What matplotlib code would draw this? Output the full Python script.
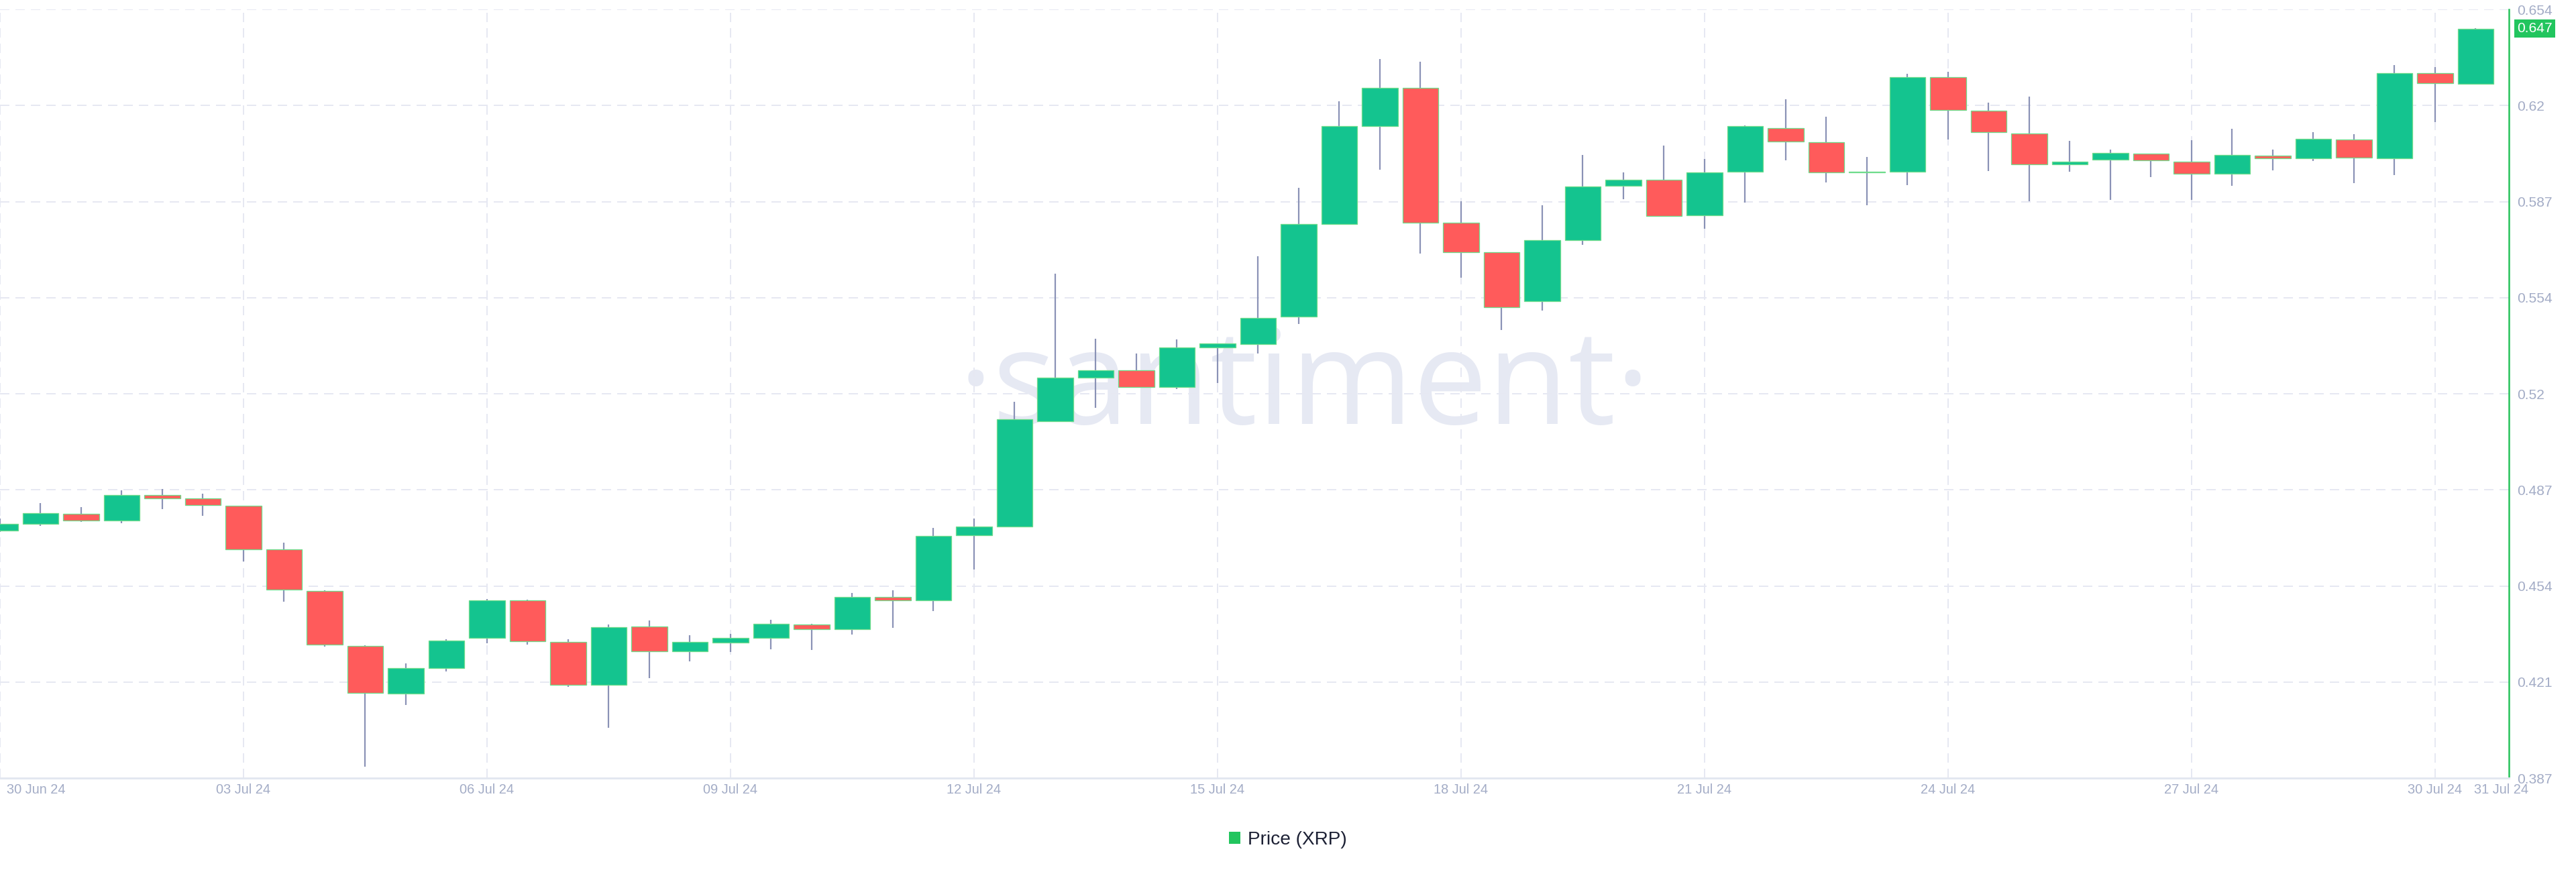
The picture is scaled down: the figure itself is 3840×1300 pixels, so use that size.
import numpy as np
import pandas as pd
import matplotlib
matplotlib.use("Agg")
import matplotlib.pyplot as plt
import matplotlib.dates as mdates
import matplotlib.transforms as mtransforms
from matplotlib.patches import Patch
from matplotlib import font_manager

# ---------------- data (12h candles, XRP price) ----------------
start = "2024-06-30"
opens = [0.4729, 0.4752, 0.4787, 0.4764, 0.4854, 0.4842, 0.4816, 0.4665, 0.4520, 0.4330,
         0.4164, 0.4252, 0.4356, 0.4487, 0.4344, 0.4195, 0.4396, 0.4311, 0.4340, 0.4356,
         0.4404, 0.4387, 0.4499, 0.4487, 0.4713, 0.4744, 0.5110, 0.5262, 0.5286, 0.5228,
         0.5365, 0.5378, 0.5472, 0.5795, 0.6135, 0.6268, 0.5799, 0.5696, 0.5526, 0.5739,
         0.5927, 0.5948, 0.5824, 0.5976, 0.6128, 0.6079, 0.5975, 0.5977, 0.6304, 0.6188,
         0.6110, 0.6001, 0.6019, 0.6039, 0.6012, 0.5970, 0.6032, 0.6022, 0.6088, 0.6023,
         0.6319, 0.6281]
highs = [0.4771, 0.4826, 0.4812, 0.4870, 0.4874, 0.4857, 0.4817, 0.4688, 0.4522, 0.4332,
         0.4269, 0.4352, 0.4491, 0.4490, 0.4352, 0.4404, 0.4418, 0.4367, 0.4370, 0.4421,
         0.4406, 0.4514, 0.4523, 0.4740, 0.4771, 0.5176, 0.5623, 0.5396, 0.5345, 0.5394,
         0.5380, 0.5682, 0.5920, 0.6220, 0.6367, 0.6358, 0.5873, 0.5697, 0.5859, 0.6034,
         0.5974, 0.6067, 0.6020, 0.6136, 0.6227, 0.6168, 0.6028, 0.6317, 0.6324, 0.6217,
         0.6238, 0.6084, 0.6054, 0.6040, 0.6085, 0.6125, 0.6053, 0.6113, 0.6107, 0.6346,
         0.6340, 0.6474]
lows = [0.4726, 0.4747, 0.4759, 0.4756, 0.4804, 0.4782, 0.4623, 0.4482, 0.4327, 0.3909,
        0.4123, 0.4241, 0.4338, 0.4333, 0.4187, 0.4044, 0.4217, 0.4276, 0.4307, 0.4317,
        0.4315, 0.4368, 0.4393, 0.4449, 0.4594, 0.4742, 0.5107, 0.5156, 0.5228, 0.5221,
        0.5242, 0.5345, 0.5448, 0.5794, 0.5984, 0.5691, 0.5607, 0.5427, 0.5494, 0.5722,
        0.5881, 0.5822, 0.5777, 0.5869, 0.6016, 0.5940, 0.5860, 0.5930, 0.6088, 0.5978,
        0.5873, 0.5977, 0.5878, 0.5957, 0.5878, 0.5927, 0.5980, 0.6014, 0.5937, 0.5964,
        0.6148, 0.6280]
closes = [0.4752, 0.4791, 0.4764, 0.4854, 0.4842, 0.4818, 0.4665, 0.4525, 0.4333, 0.4166,
          0.4251, 0.4348, 0.4487, 0.4345, 0.4195, 0.4395, 0.4311, 0.4343, 0.4356, 0.4407,
          0.4387, 0.4500, 0.4487, 0.4712, 0.4744, 0.5116, 0.5261, 0.5286, 0.5229, 0.5365,
          0.5379, 0.5468, 0.5795, 0.6135, 0.6267, 0.5800, 0.5697, 0.5505, 0.5738, 0.5925,
          0.5948, 0.5823, 0.5975, 0.6135, 0.6080, 0.5973, 0.5976, 0.6304, 0.6191, 0.6113,
          0.6001, 0.6012, 0.6041, 0.6015, 0.5970, 0.6034, 0.6023, 0.6090, 0.6024, 0.6319,
          0.6283, 0.6473]

y_tick_labels = ["0.387", "0.421", "0.454", "0.487", "0.52", "0.554", "0.587", "0.62", "0.654"]
x_tick_labels = ["30 Jun 24", "03 Jul 24", "06 Jul 24", "09 Jul 24", "12 Jul 24", "15 Jul 24",
                 "18 Jul 24", "21 Jul 24", "24 Jul 24", "27 Jul 24", "30 Jul 24"]
end_label = "31 Jul 24"
series_name = "Price (XRP)"
watermark = "·santiment·"

# ---------------- style ----------------
DPI = 100
W, H = 3840, 1300


def px(v):
    return v * 72.0 / DPI


plt.rcParams["lines.scale_dashes"] = False
plt.rcParams["font.family"] = ["Liberation Sans", "DejaVu Sans"]

GREEN = "#14C48F"
RED = "#FF5B5B"
EDGE = "#6FDC8C"
WICK = "#8A92B6"
GRID = "#E6E8F2"
TICK = "#A3ACC6"
AXIS_GREEN = "#26C35B"
LABEL_GREEN = "#22C55E"
WM = "#E6E9F3"

times = pd.date_range(start, periods=len(opens), freq="12h")
xs = mdates.date2num(times)
o, h, l, c = (np.array(a) for a in (opens, highs, lows, closes))
up = c >= o

fig = plt.figure(figsize=(W / DPI, H / DPI), dpi=DPI, facecolor="white")
ax = fig.add_axes([0, 1 - 1160 / H, 3740 / W, (1160 - 14) / H])
ax.set_facecolor("none")

# watermark (behind the axes)
avail = {f.name for f in font_manager.fontManager.ttflist}
if "Liberation Sans Narrow" in avail:
    wm_family, wm_size = "Liberation Sans Narrow", px(258)
else:
    wm_family, wm_size = "Open Sans", px(197)
fig.text(1945 / W, 1 - 632 / H, watermark, ha="center", va="baseline",
         fontsize=wm_size, family=[wm_family, "DejaVu Sans"], color=WM, zorder=-1)

# candles
step = 0.5  # days
body_w = step * 0.886
ax.vlines(xs, l, h, color=WICK, lw=px(2.2), zorder=2)
body_bottom = np.minimum(o, c)
body_h = np.maximum(np.abs(c - o), 0.0002)
ax.bar(xs, body_h, body_w, bottom=body_bottom, color=np.where(up, GREEN, RED),
       edgecolor=EDGE, linewidth=px(1.3), zorder=3)

# axes limits and ticks
ymin, ymax = float(y_tick_labels[0]), float(y_tick_labels[-1])
ax.set_ylim(ymin, ymax)
ax.set_yticks(np.linspace(ymin, ymax, len(y_tick_labels)))
ax.set_yticklabels(y_tick_labels)
ax.yaxis.tick_right()

ax.set_xlim(xs[0], xs[-1] + 0.82 * step)
tick_dates = pd.date_range(start, periods=len(x_tick_labels), freq="3D")
ax.set_xticks(mdates.date2num(tick_dates))
ax.set_xticklabels(x_tick_labels)

ax.tick_params(axis="y", length=0, pad=px(12), labelsize=px(21), labelcolor=TICK)
ax.tick_params(axis="x", length=0, pad=px(8), labelsize=px(20), labelcolor=TICK)
first = ax.get_xticklabels()[0]
first.set_ha("left")
first.set_transform(first.get_transform() +
                    mtransforms.ScaledTranslation(10 / DPI, 0, fig.dpi_scale_trans))

ax.grid(True, color=GRID, lw=px(2), linestyle=(0, (px(14), px(9))), zorder=0)
ax.set_axisbelow(True)

for s in ("top", "left"):
    ax.spines[s].set_visible(False)
ax.spines["bottom"].set_color("#E3E7F0")
ax.spines["bottom"].set_linewidth(px(3))
ax.spines["right"].set_color(AXIS_GREEN)
ax.spines["right"].set_linewidth(px(2.5))

# end-of-range date label
ax.annotate(end_label, xy=(mdates.date2num(pd.Timestamp("2024-07-31")), 0),
            xycoords=("data", "axes fraction"), xytext=(px(-22), -px(8)),
            textcoords="offset points", ha="center", va="top", color=TICK,
            fontsize=px(20), annotation_clip=False)

# last price label
ax.annotate(f"{closes[-1]:.3f}", xy=(1, closes[-1]), xycoords=("axes fraction", "data"),
            xytext=(px(12), 0), textcoords="offset points", ha="left", va="center",
            color="white", fontsize=px(21), annotation_clip=False,
            bbox=dict(boxstyle="square,pad=0.2", fc=LABEL_GREEN, ec="none"))

# legend
fig.legend([Patch(facecolor=LABEL_GREEN, edgecolor="none")], [series_name],
           loc="center", bbox_to_anchor=(0.5, 1 - 1252 / H), frameon=False,
           fontsize=px(28), handlelength=0.6, handleheight=0.6, handletextpad=0.4,
           labelcolor="#1D2135")

fig.savefig("out.png", dpi=DPI, facecolor="white")
